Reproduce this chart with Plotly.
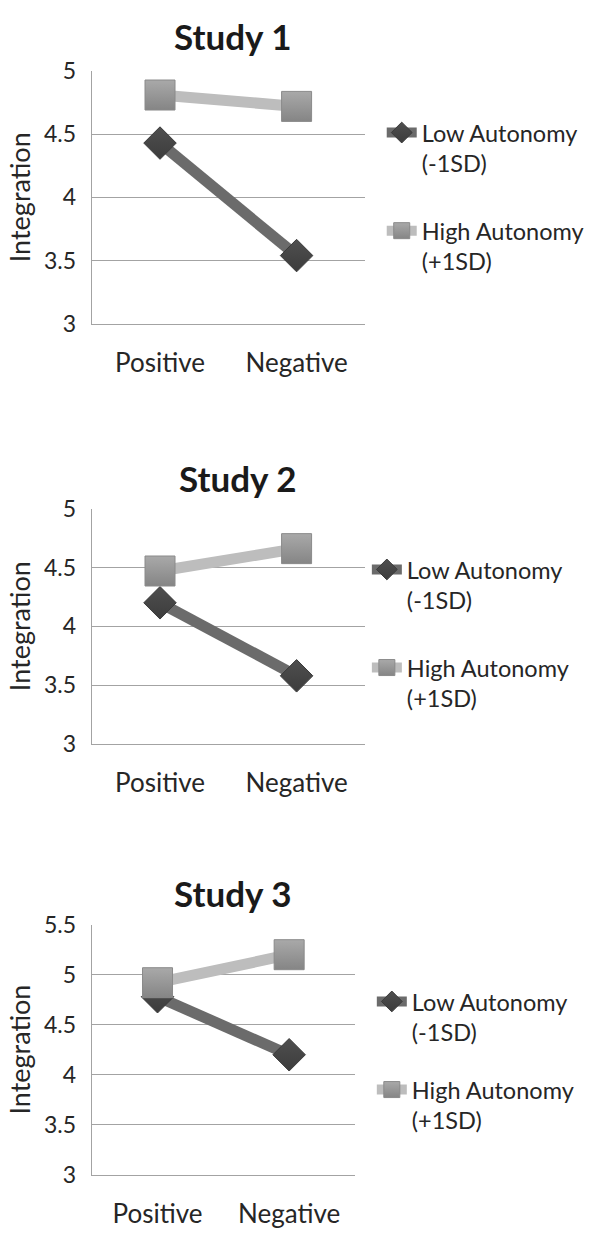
import plotly.graph_objects as go

# ---------------- data ----------------
categories = ["Positive", "Negative"]
studies = ["Study 1", "Study 2", "Study 3"]
low_names = "Low Autonomy<br>(-1SD)"
high_names = "High Autonomy<br>(+1SD)"

study1_low = [4.43, 3.54]
study1_high = [4.81, 4.72]
study2_low = [4.20, 3.58]
study2_high = [4.47, 4.66]
study3_low = [4.78, 4.20]
study3_high = [4.92, 5.20]

yticks_12 = [3, 3.5, 4, 4.5, 5]
yticks_3 = [3, 3.5, 4, 4.5, 5, 5.5]
ytick_labels_12 = ["3", "3.5", "4", "4.5", "5"]
ytick_labels_3 = ["3", "3.5", "4", "4.5", "5", "5.5"]

# ---------------- layout helpers ----------------
W, H = 589, 1239
def px(x):
    return x / W
def py(y):
    return 1 - y / H

FONT = "Lato"
TXT = "#262626"
GRID = "#a3a3a3"
LOW_LINE = "#6b6b6b"
LOW_MARK = "#4f4f4f"
HIGH_LINE = "#bdbdbd"

panels = [
    dict(low=study1_low, high=study1_high, ticks=yticks_12, labels=ytick_labels_12,
         rng=[3, 5], xd=(92.5, 368), yd=(57.3, 316), title_xy=(234, 21),
         leg_xy=(385, 98), gap=34),
    dict(low=study2_low, high=study2_high, ticks=yticks_12, labels=ytick_labels_12,
         rng=[3, 5], xd=(92.5, 368), yd=(505, 746), title_xy=(240, 474),
         leg_xy=(370, 545), gap=34),
    dict(low=study3_low, high=study3_high, ticks=yticks_3, labels=ytick_labels_3,
         rng=[3, 5.5], xd=(92.5, 358), yd=(930.7, 1186.7), title_xy=(234, 898),
         leg_xy=(375, 987), gap=24),
]

fig = go.Figure()
annotations = []
layout_extra = {}

for i, p in enumerate(panels):
    n = i + 1
    xa = "x" if n == 1 else f"x{n}"
    ya = "y" if n == 1 else f"y{n}"
    leg = "legend" if n == 1 else f"legend{n}"

    fig.add_trace(go.Scatter(
        x=categories, y=p["low"], xaxis=xa, yaxis=ya, name=low_names,
        mode="lines+markers", legend=leg, legendgroup=f"low{n}",
        line=dict(color=LOW_LINE, width=11),
        marker=dict(symbol="diamond", size=25, color=LOW_MARK,
                    line=dict(color="#3a3a3a", width=1),
                    gradient=dict(type="vertical", color="#3c3c3c")),
    ))
    fig.add_trace(go.Scatter(
        x=categories, y=p["high"], xaxis=xa, yaxis=ya, name=high_names,
        mode="lines+markers", legend=leg, legendgroup=f"high{n}",
        line=dict(color=HIGH_LINE, width=11),
        marker=dict(symbol="square", size=30, color="#a9a9a9",
                    line=dict(color="#8a8a8a", width=1),
                    gradient=dict(type="vertical", color="#858585")),
    ))

    xkey = "xaxis" if n == 1 else f"xaxis{n}"
    ykey = "yaxis" if n == 1 else f"yaxis{n}"
    layout_extra[xkey] = dict(
        domain=[px(p["xd"][0]), px(p["xd"][1])], anchor=ya,
        type="category", range=[-0.5, 1.5], showgrid=False,
        showline=True, linecolor=GRID, linewidth=1.2, ticks="",
        tickfont=dict(family=FONT, size=26, color=TXT),
        ticklabelstandoff=16, fixedrange=True,
    )
    layout_extra[ykey] = dict(
        domain=[py(p["yd"][1]), py(p["yd"][0])], anchor=xa,
        range=p["rng"], tickvals=p["ticks"], ticktext=p["labels"],
        showgrid=True, gridcolor=GRID, gridwidth=1.2, zeroline=False,
        showline=True, linecolor=GRID, linewidth=1.2, ticks="",
        tickfont=dict(family=FONT, size=23, color=TXT),
        ticklabelstandoff=10, fixedrange=True,
    )
    layout_extra[leg] = dict(
        x=px(p["leg_xy"][0]), y=py(p["leg_xy"][1]), xanchor="left", yanchor="top",
        xref="paper", yref="paper",
        font=dict(family=FONT, size=23.5, color=TXT),
        bgcolor="rgba(0,0,0,0)", borderwidth=0, valign="top",
        traceorder="grouped", tracegroupgap=p["gap"],
        itemclick=False, itemdoubleclick=False,
    )
    annotations.append(dict(
        text=f"<b>{studies[i]}</b>", x=px(p["title_xy"][0]), y=py(p["title_xy"][1]),
        xref="paper", yref="paper", showarrow=False, xanchor="center", yanchor="middle",
        font=dict(family=FONT, size=35, color="#1a1a1a"),
    ))
    annotations.append(dict(
        text="Integration", x=px(20), y=py((p["yd"][0] + p["yd"][1]) / 2),
        xref="paper", yref="paper", showarrow=False, textangle=-90,
        xanchor="center", yanchor="middle",
        font=dict(family=FONT, size=27, color=TXT),
    ))

fig.update_layout(
    width=W, height=H, autosize=False,
    margin=dict(l=0, r=0, t=0, b=0),
    paper_bgcolor="white", plot_bgcolor="white",
    showlegend=True, annotations=annotations,
    **layout_extra,
)

fig.write_html(
    "out.html",
    config={"displayModeBar": False},
    post_script="document.body.style.margin='0';document.body.style.overflow='hidden';",
)
